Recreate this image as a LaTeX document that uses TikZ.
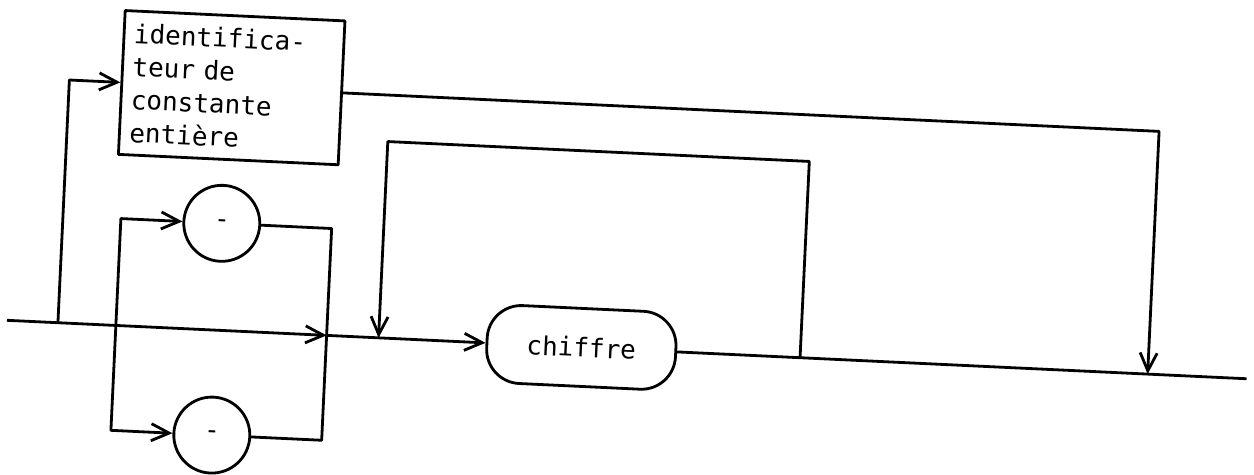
\documentclass[tikz,border=0pt]{standalone}
\usepackage{fontspec}
\setmonofont{DejaVu Sans Mono}
\usetikzlibrary{arrows.meta}

\tikzset{
  trait/.style={line width=1.4pt, line join=round},
  fleche/.style={trait, -{Straight Barb[length=9pt,width=8.5pt,line width=1.4pt]}},
  texte/.style={font=\ttfamily\fontsize{13}{16.5}\selectfont},
  boite/.style={draw, trait, texte, text width=100pt, align=left, minimum height=72pt, inner sep=5pt},
  rond/.style={circle, draw, trait, texte, minimum size=38pt, inner sep=0pt},
  arrondi/.style={draw, trait, texte, rounded corners=17pt, minimum width=94.5pt, minimum height=39pt, inner sep=0pt}
}

\begin{document}
\begin{tikzpicture}[x=0.5pt,y=-0.5pt]
  \useasboundingbox (0,0) rectangle (1254,475);
  \begin{scope}[rotate around={-2.7:(0,320)}, transform shape]
    % Boites
    \node[boite] (ident) at (220.5,77) {identifica-\\teur de\\constante\\entière};
    \node[rond] (plus) at (217,213) {-};
    \node[rond] (moins) at (217,425) {-};
    \node[arrondi] (chiffre) at (582,320) {chiffre};

    % Points sur la ligne
    \coordinate (debut) at (7,320);
    \coordinate (separation) at (58,320);
    \coordinate (fourche) at (116,320);
    \coordinate (jonction) at (327,320);
    \coordinate (boucleG) at (379,320);
    \coordinate (boucleD) at (801,320);
    \coordinate (retour) at (1149,320);
    \coordinate (fin) at (1248,320);

    % Ligne principale
    \draw[fleche] (debut) -- (jonction);
    \draw[fleche] (jonction) -- (chiffre.west);
    \draw[trait] (chiffre.east) -- (fin);

    % Branches
    \draw[fleche] (separation) |- (ident.west);
    \draw[fleche] (ident.east) -| (retour);
    \draw[fleche] (fourche) |- (plus.west);
    \draw[fleche] (fourche) |- (moins.west);
    \draw[trait] (plus.east) -| (jonction);
    \draw[trait] (moins.east) -| (jonction);

    % Boucle
    \draw[fleche] (boucleD) -- ++(0,-196.5) -| (boucleG);
  \end{scope}
\end{tikzpicture}
\end{document}
